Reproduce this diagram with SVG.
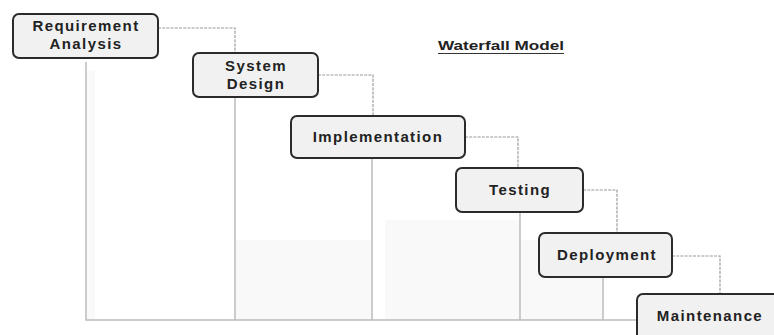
<svg xmlns="http://www.w3.org/2000/svg" width="774" height="335" viewBox="0 0 774 335">
<defs>
<style>
.box{fill:#f1f1f1;stroke:#2b2b2b;stroke-width:2}
.lbl{font-family:"Liberation Sans","Open Sans",sans-serif;font-weight:700;font-size:15px;letter-spacing:1.4px;fill:#222;text-anchor:middle}
.conn{fill:none;stroke:#9a9a9a;stroke-width:1.2;stroke-dasharray:3 1.2}
.grid{fill:none;stroke:#bcbcbc;stroke-width:1.5}
.shade{fill:#f9f9f9}
</style>
</defs>
<rect width="774" height="335" fill="#ffffff"/>
<g id="background">
<rect class="shade" x="87" y="70" width="8" height="250"/>
<rect class="shade" x="236" y="240" width="136" height="80"/>
<rect class="shade" x="385" y="220" width="135" height="100"/>
<rect class="shade" x="521" y="240" width="82" height="80"/>
<path class="grid" d="M86,62 V320 H637 M235,97 V320 M372,158 V320 M520,212 V320 M603,277 V320"/>
</g>
<g id="connectors">
<path class="conn" d="M158,28 H235 V53"/>
<path class="conn" d="M318,75 H373 V116"/>
<path class="conn" d="M465,137 H518 V168"/>
<path class="conn" d="M583,190 H617 V233"/>
<path class="conn" d="M672,256 H720 V294"/>
</g>
<g id="title">
<text x="438" y="50" font-family="'Liberation Sans','Open Sans',sans-serif" font-weight="700" font-size="12" fill="#222" textLength="126" lengthAdjust="spacingAndGlyphs">Waterfall  Model</text>
<line x1="438" y1="53.5" x2="564" y2="53.5" stroke="#333" stroke-width="1"/>
</g>
<g id="requirement-analysis">
<rect class="box" x="13" y="14" width="145" height="44" rx="6"/>
<text class="lbl" x="86" y="31">Requirement</text>
<text class="lbl" x="86" y="49">Analysis</text>
</g>
<g id="system-design">
<rect class="box" x="193" y="53" width="125" height="44" rx="6"/>
<text class="lbl" x="256" y="70.5">System</text>
<text class="lbl" x="256" y="88.5">Design</text>
</g>
<g id="implementation">
<rect class="box" x="291" y="116" width="174" height="42" rx="6"/>
<text class="lbl" x="378" y="142">Implementation</text>
</g>
<g id="testing">
<rect class="box" x="456" y="168" width="127" height="44" rx="6"/>
<text class="lbl" x="520" y="195">Testing</text>
</g>
<g id="deployment">
<rect class="box" x="539" y="233" width="133" height="44" rx="6"/>
<text class="lbl" x="607" y="260">Deployment</text>
</g>
<g id="maintenance">
<rect class="box" x="637" y="294" width="150" height="50" rx="6"/>
<text class="lbl" x="710" y="321">Maintenance</text>
</g>
</svg>
